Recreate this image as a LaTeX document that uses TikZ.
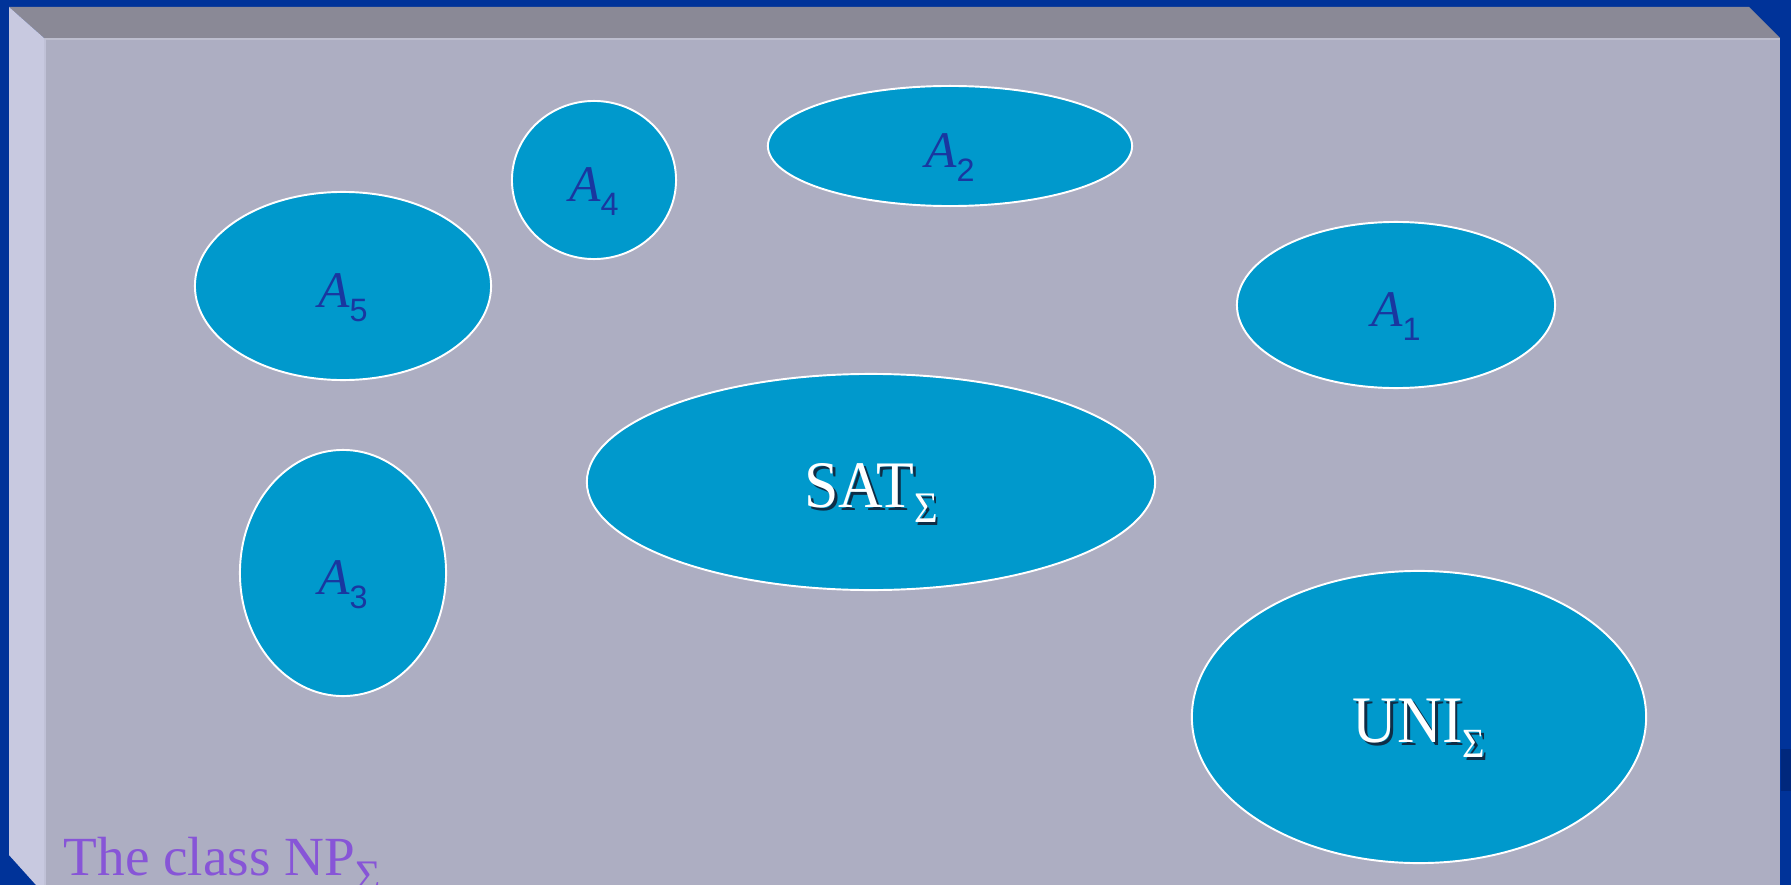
\documentclass[tikz,border=0pt]{standalone}
\usepackage{graphicx}
\usepackage{fontspec}
\setmainfont{Liberation Serif}
\setsansfont{Liberation Sans}
\usetikzlibrary{shapes.geometric}

\definecolor{slidebg}{RGB}{0,51,153}
\definecolor{slidedark}{RGB}{0,40,125}
\definecolor{panelface}{RGB}{173,174,194}
\definecolor{paneltop}{RGB}{138,137,150}
\definecolor{panelside}{RGB}{200,201,224}
\definecolor{setfill}{RGB}{0,153,204}
\definecolor{setlabel}{RGB}{25,55,160}
\definecolor{classlabel}{RGB}{135,85,215}
\definecolor{textshade}{RGB}{15,45,70}

% A_i : italic serif letter, sans index
\newcommand{\setA}[1]{{\fontsize{14.6pt}{15pt}\selectfont\itshape A}%
\raisebox{-4pt}{\sffamily\fontsize{9.2pt}{9pt}\selectfont #1}}

% name with a Sigma index: size, name, index size, drop
\newcommand{\sigmaname}[4]{{\fontsize{#1}{#1}\selectfont #2%
\raisebox{-#4}{\fontsize{#3}{#3}\selectfont Σ}}}

% white text with a dark copy behind it
\newcommand{\castshadow}[1]{\rlap{\hspace{0.03cm}\raisebox{-0.03cm}{\color{textshade}#1}}#1}

\begin{document}
\begin{tikzpicture}[
x=0.01cm, y=-0.01cm,
setbox/.style={
ellipse,
draw=white,
line width=0.55pt,
fill=setfill,
inner sep=0pt,
text=setlabel,
text height=0.47cm,
text depth=0.05cm
},
bigset/.style={
setbox,
text=white,
text height=0.55cm,
text depth=0.05cm
}
]

\useasboundingbox (0,0) rectangle (1791,885);

% slide and panel
\fill[slidebg] (0,0) rectangle (1791,885);
\fill[slidedark] (1781,749) rectangle (1791,791);
\fill[panelface] (44,38) rectangle (1780,885);
\fill[paneltop] (9,7) -- (1749,7) -- (1780,38) -- (44,38) -- cycle;
\fill[panelside] (9,7) -- (44,38) -- (44,885) -- (36,885) -- (9,855) -- cycle;
\draw[panelface!80!white, line width=0.4pt] (44,39) -- (1780,39);
\draw[panelside!70!panelface, line width=0.4pt] (45,39) -- (45,885);

\node[setbox, minimum width=3.64cm, minimum height=1.20cm] (A2) at (950,146)
{\setA{2}};

\node[setbox, minimum width=1.64cm, minimum height=1.58cm] (A4) at (594,180)
{\setA{4}};

\node[setbox, minimum width=2.96cm, minimum height=1.88cm] (A5) at (343,286)
{\setA{5}};

\node[setbox, minimum width=3.18cm, minimum height=1.66cm] (A1) at (1396,305)
{\setA{1}};

\node[setbox, minimum width=2.06cm, minimum height=2.46cm] (A3) at (343,573)
{\setA{3}};

\node[bigset, minimum width=5.68cm, minimum height=2.16cm] (SAT) at (871,482)
{\scalebox{0.93}[1]{\castshadow{\sigmaname{18.9pt}{SAT}{12.4pt}{4.3pt}}}};

\node[bigset, minimum width=4.54cm, minimum height=2.92cm] (UNI) at (1419,717)
{\scalebox{0.93}[1]{\castshadow{\sigmaname{18.9pt}{UNI}{11.8pt}{4.3pt}}}};

\node[anchor=base west, inner sep=0pt, text=classlabel] (NP) at (63,875)
{\sigmaname{15.7pt}{The class NP}{12.4pt}{4.3pt}};

\end{tikzpicture}
\end{document}
